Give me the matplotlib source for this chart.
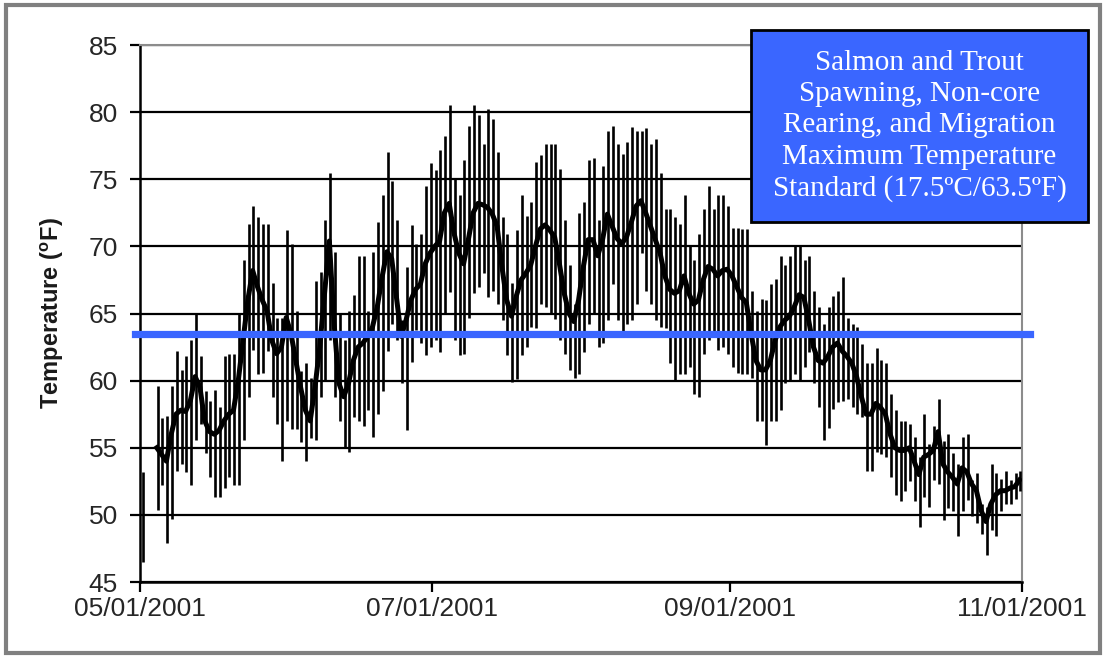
import numpy as np
import pandas as pd
import matplotlib
matplotlib.use("Agg")
import matplotlib.pyplot as plt
import matplotlib.dates as mdates
from matplotlib.patches import Rectangle

# daily values, starting 05/01/2001 (nan = no data)
start = "2001-05-01"
t_max = [53.2, np.nan, np.nan, 59.6, 57.2, 57.4, 59.6, 62.2, 60.8, 61.8,
         63.0, 65.0, 61.8, 59.2, 58.5, 59.3, 58.0, 61.8, 62.0, 62.0,
         65.0, 69.0, 71.7, 73.0, 72.2, 71.7, 71.7, 67.3, 64.7, 64.7,
         71.2, 70.2, 65.2, 60.7, 61.3, 60.2, 67.4, 68.1, 72.0, 75.5,
         69.6, 65.0, 63.0, 65.2, 66.4, 69.3, 69.3, 65.2, 69.6, 71.8,
         73.8, 77.0, 74.9, 72.0, 64.5, 68.5, 71.6, 70.2, 70.9, 74.5,
         76.2, 75.7, 77.2, 78.2, 80.5, 75.0, 73.8, 76.4, 79.0, 80.5,
         79.8, 77.6, 80.2, 79.5, 77.0, 72.2, 70.9, 67.3, 71.2, 73.8,
         72.3, 73.3, 76.3, 76.8, 77.6, 77.6, 77.6, 75.8, 72.0, 68.6,
         65.7, 72.5, 73.3, 76.4, 76.6, 72.0, 76.0, 78.6, 79.0, 77.6,
         76.9, 77.8, 78.9, 78.6, 78.6, 78.8, 77.6, 78.0, 75.5, 72.8,
         72.8, 72.2, 71.7, 73.8, 70.0, 69.0, 70.9, 72.8, 74.5, 72.8,
         73.8, 73.8, 73.0, 71.4, 71.4, 71.3, 71.3, 66.7, 65.2, 66.1,
         66.0, 67.2, 67.6, 69.3, 68.6, 69.3, 70.1, 70.0, 69.0, 69.3,
         66.7, 65.5, 64.2, 65.5, 66.3, 66.7, 67.7, 64.7, 64.2, 64.0,
         62.7, 61.3, 61.3, 62.4, 61.5, 61.3, 59.0, 57.8, 57.0, 57.0,
         56.8, 55.8, 54.3, 57.5, 55.3, 56.6, 58.6, 55.5, 56.0, 54.6,
         53.8, 55.8, 56.0, 52.6, 53.1, 50.8, 50.6, 53.8, 53.1, 52.7,
         53.3, 52.6, 53.1, 53.3]
t_min = [46.5, np.nan, np.nan, 50.4, 52.2, 47.9, 49.7, 53.3, 53.8, 53.2,
         52.2, 55.6, 56.8, 54.6, 52.8, 51.3, 51.3, 52.0, 52.8, 52.2,
         52.2, 55.6, 58.8, 62.3, 60.5, 60.6, 62.2, 58.8, 56.8, 54.0,
         57.0, 56.4, 56.4, 55.4, 54.0, 55.7, 55.6, 58.8, 60.0, 63.0,
         58.8, 57.0, 55.0, 54.7, 57.3, 57.0, 56.6, 57.8, 55.8, 57.5,
         59.2, 62.2, 64.2, 63.0, 59.8, 56.3, 61.4, 63.8, 62.8, 61.9,
         62.5, 63.0, 62.1, 65.0, 66.6, 63.0, 61.9, 62.0, 64.7, 66.5,
         67.0, 68.0, 66.2, 66.7, 65.7, 64.5, 61.9, 59.9, 60.1, 61.9,
         62.5, 64.0, 63.9, 65.7, 65.5, 65.0, 64.6, 63.0, 62.0, 60.8,
         60.2, 60.5, 62.1, 64.2, 65.0, 62.5, 62.8, 64.5, 67.2, 64.5,
         63.7, 64.2, 64.5, 65.7, 69.5, 66.7, 65.7, 64.5, 64.0, 63.9,
         61.3, 60.0, 60.5, 60.5, 61.0, 59.0, 58.8, 62.0, 63.0, 63.5,
         62.3, 62.5, 62.0, 61.0, 60.6, 60.5, 60.5, 60.2, 57.0, 57.0,
         55.2, 57.0, 57.0, 57.8, 59.8, 60.0, 60.5, 60.0, 61.0, 62.1,
         59.8, 58.0, 55.6, 56.5, 57.9, 58.4, 58.5, 58.6, 58.0, 57.5,
         57.3, 53.3, 53.3, 54.7, 54.5, 54.3, 52.8, 51.5, 51.0, 51.8,
         52.5, 51.0, 49.1, 51.3, 50.6, 52.6, 52.3, 49.6, 50.5, 50.3,
         48.4, 50.3, 51.1, 49.9, 49.4, 48.6, 47.0, 48.9, 48.4, 50.3,
         50.8, 50.8, 51.2, 51.8]
t_mean = [50.0, np.nan, np.nan, 55.0, 54.5, 54.0, 56.0, 57.5, 57.8, 57.7,
          58.5, 60.3, 59.5, 57.0, 56.2, 56.0, 56.3, 57.0, 57.5, 57.8,
          60.0, 63.0, 66.0, 68.2, 67.0, 66.0, 65.2, 63.0, 62.0, 62.5,
          64.7, 63.5, 61.5, 59.5, 57.8, 57.0, 59.5, 62.5, 66.5, 70.4,
          64.2, 59.8, 58.8, 59.8, 61.5, 62.5, 62.8, 63.3, 64.0, 65.5,
          67.7, 69.6, 69.1, 66.2, 63.3, 64.5, 66.0, 66.8, 67.2, 68.7,
          69.5, 70.0, 70.4, 72.5, 73.2, 71.0, 69.5, 68.7, 70.5, 72.5,
          73.2, 73.1, 72.9, 72.4, 71.5, 68.5, 66.0, 64.8, 66.3, 67.5,
          68.0, 68.6, 70.0, 71.3, 71.6, 71.2, 70.7, 68.7, 66.5, 65.0,
          64.4, 66.0, 68.5, 70.5, 70.5, 69.3, 70.5, 72.4, 71.5, 70.6,
          70.2, 70.7, 71.8, 73.0, 73.4, 72.5, 71.5, 70.5, 69.5, 67.8,
          66.8, 66.5, 66.7, 67.8, 66.5, 65.7, 66.0, 67.5, 68.5, 68.3,
          67.8, 68.2, 68.3, 67.8, 67.0, 66.2, 65.8, 63.5, 61.5, 60.8,
          60.8, 61.5, 63.0, 64.0, 64.5, 64.8, 65.5, 66.4, 66.2, 64.5,
          62.5, 61.5, 61.3, 61.8, 62.5, 62.8, 62.2, 61.8, 61.3, 60.3,
          58.8, 57.5, 57.5, 58.3, 58.0, 57.5, 56.0, 55.0, 54.8, 54.8,
          55.0, 54.0, 53.0, 54.3, 54.5, 54.8, 56.2, 53.8, 53.2, 52.8,
          52.3, 53.5, 53.2, 52.3, 51.8, 50.3, 49.5, 50.8, 51.5, 51.8,
          51.8, 52.0, 52.1, 52.6]
standard_f = 63.5
box_text = ("Salmon and Trout\nSpawning, Non-core\nRearing, and Migration\n"
            "Maximum Temperature\nStandard (17.5ºC/63.5ºF)")
tick_dates = ["2001-05-01", "2001-07-01", "2001-09-01", "2001-11-01"]

days = pd.date_range(start, periods=len(t_max), freq="D")
x_bar = mdates.date2num(days + pd.Timedelta(hours=16))
x_mean = mdates.date2num(days + pd.Timedelta(hours=12))

plt.rcParams['font.family'] = ['Liberation Sans', 'DejaVu Sans']

fig = plt.figure(figsize=(11.06, 6.58), dpi=100)
ax = fig.add_axes([0.1266, 0.1155, 0.7974, 0.8161])

ax.vlines(x_bar, t_min, t_max, color="black", lw=1.9, zorder=3)
ax.plot(x_mean, t_mean, color="black", lw=3.6, zorder=4)
ax.axhline(standard_f, xmin=-0.006, xmax=1.009, color="#3a66ff", lw=5.2,
           zorder=5, clip_on=False)

ax.set_ylim(45, 85)
ax.set_yticks(range(45, 86, 5))
ax.set_xlim(mdates.date2num(pd.Timestamp(tick_dates[0])),
            mdates.date2num(pd.Timestamp(tick_dates[-1])))
ax.set_xticks(mdates.date2num(pd.to_datetime(tick_dates)))
ax.xaxis.set_major_formatter(mdates.DateFormatter("%m/%d/%Y"))
ax.grid(axis="y", color="black", lw=1.6, zorder=1)
ax.tick_params(axis="both", direction="out", length=7, width=1.6,
               labelsize=19, colors="black", labelcolor="#262626")
ax.tick_params(axis="y", pad=9)
ax.tick_params(axis="x", pad=4)
for s in ["left", "bottom"]:
    ax.spines[s].set_color("black")
    ax.spines[s].set_linewidth(1.8)
for s in ["top", "right"]:
    ax.spines[s].set_color("#8c8c8c")
    ax.spines[s].set_linewidth(1.5)
ax.set_ylabel("Temperature ($^{\\mathregular{o}}$F)", fontsize=17,
              fontweight="bold", color="#1a1a1a", labelpad=16)

# label box for the standard
fig.patches.append(Rectangle((0.679, 0.6626), 0.3047, 0.2918, transform=fig.transFigure,
                             facecolor="#3a66ff", edgecolor="black", lw=2, zorder=6))
fig.text(0.8314, 0.8085, box_text, ha="center", va="center",
         fontsize=21, color="white", family="Liberation Serif",
         linespacing=1.27, zorder=7)

# outer frame
fig.patches.append(Rectangle((0.005, 0.007), 0.99, 0.986, transform=fig.transFigure,
                             fill=False, edgecolor="#808080", lw=3))

fig.savefig("out.png", dpi=100)
